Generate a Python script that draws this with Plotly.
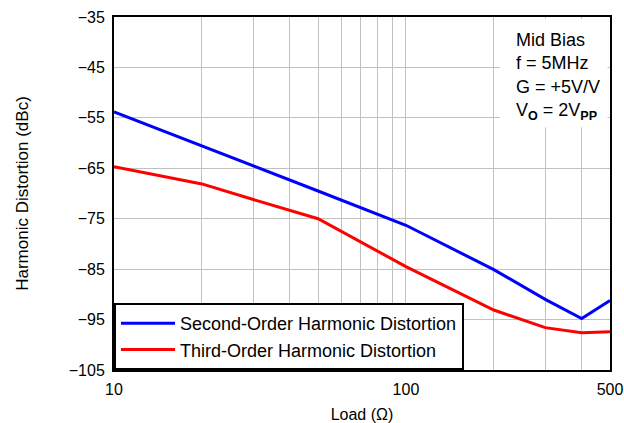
import plotly.graph_objects as go

# load resistance (ohm)
load = [10, 20, 30, 50, 100, 200, 300, 400, 500]

# harmonic distortion (dBc)
hd2 = [-53.8, -60.5, -64.5, -69.5, -76.3, -85.1, -91.0, -94.8, -91.2]
hd3 = [-64.7, -68.1, -71.2, -75.0, -84.5, -93.1, -96.6, -97.6, -97.4]

x_tickvals = [10, 20, 30, 40, 50, 60, 70, 80, 90, 100, 200, 300, 400, 500]
x_ticktext = ["10", "", "", "", "", "", "", "", "", "100", "", "", "", "500"]

FONT = "Liberation Sans, Arial, sans-serif"
GRID = "#c0c0c0"

fig = go.Figure()
fig.add_trace(go.Scatter(x=load, y=hd2, mode="lines", name="Second-Order Harmonic Distortion",
                         line=dict(color="#0000ff", width=3)))
fig.add_trace(go.Scatter(x=load, y=hd3, mode="lines", name="Third-Order Harmonic Distortion",
                         line=dict(color="#ff0000", width=3)))

# white patch behind the condition text
fig.add_shape(type="rect", xref="paper", yref="paper", x0=0.778, x1=0.995, y0=0.688, y1=0.995,
              fillcolor="white", line_width=0, layer="above")

fig.add_annotation(xref="paper", yref="paper", x=0.807, y=0.97, xanchor="left", yanchor="top",
                   align="left", showarrow=False,
                   text="Mid Bias<br>f = 5MHz<br>G = +5V/V<br>V<sub><b>O</b></sub> = 2V<sub><b>PP</b></sub>",
                   font=dict(family=FONT, size=18, color="black"))

fig.update_xaxes(type="log", range=[1, 2.69897], tickvals=x_tickvals, ticktext=x_ticktext,
                 showgrid=True, gridcolor=GRID, gridwidth=1,
                 showline=True, linecolor="black", linewidth=2, mirror=True,
                 ticks="outside", ticklen=4, tickcolor="white",
                 tickfont=dict(family=FONT, size=16, color="black"),
                 title=dict(text="Load (Ω)", font=dict(family=FONT, size=16, color="black"), standoff=23),
                 automargin=False)
fig.update_yaxes(range=[-105, -35], tick0=-35, dtick=10,
                 showgrid=True, gridcolor=GRID, gridwidth=1, zeroline=False,
                 showline=True, linecolor="black", linewidth=2, mirror=True,
                 ticks="outside", ticklen=4, tickcolor="white",
                 tickfont=dict(family=FONT, size=16, color="black"),
                 title=dict(text="Harmonic Distortion (dBc)", font=dict(family=FONT, size=17, color="black"),
                            standoff=36),
                 automargin=False)

fig.update_layout(
    width=624, height=423,
    margin=dict(l=114, r=14, t=17, b=53),
    plot_bgcolor="white", paper_bgcolor="white",
    showlegend=True,
    legend=dict(x=0, y=0, xanchor="left", yanchor="bottom",
                bgcolor="white", bordercolor="black", borderwidth=2,
                font=dict(family=FONT, size=18, color="black"),
                itemwidth=54, tracegroupgap=0),
)

fig.write_html("out.html", config={"displayModeBar": False},
               post_script="document.body.style.margin='0';")
